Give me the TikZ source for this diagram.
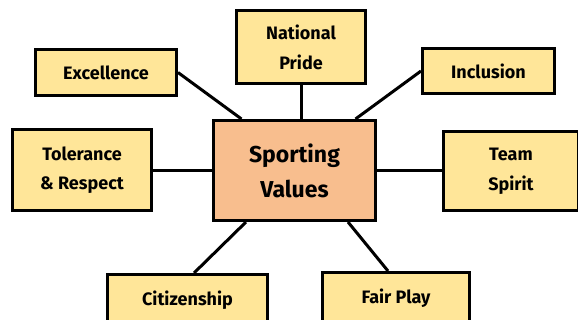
\documentclass[tikz,border=0pt]{standalone}
\usepackage{fontspec}
\setmainfont{Fira Sans}
\definecolor{boxyellow}{HTML}{FFE699}
\definecolor{boxpeach}{HTML}{F8BE8E}
\tikzset{
  valbox/.style={draw=black, line width=3pt, fill=boxyellow, align=center,
    inner sep=0pt, font=\fontsize{18}{30}\selectfont\bfseries},
  mainbox/.style={draw=black, line width=3pt, fill=boxpeach, align=center,
    inner sep=0pt, font=\fontsize{23}{35}\selectfont\bfseries},
  link/.style={draw=black, line width=3pt}
}
\begin{document}
\begin{tikzpicture}[x=1pt,y=-1pt]
\useasboundingbox (0,0) rectangle (578,320);
\clip (0,0) rectangle (578,320);
\node[valbox, minimum width=141pt, minimum height=46pt] (exc) at (106,72.5) {Excellence};
\node[valbox, minimum width=129pt, minimum height=73pt] (np) at (301,47) {National\\Pride};
\node[valbox, minimum width=132pt, minimum height=45pt] (inc) at (488.5,71) {Inclusion};
\node[valbox, minimum width=139pt, minimum height=81pt, font=\fontsize{18}{29}\selectfont\bfseries] (tol) at (82,170) {Tolerance\\\& Respect};
\node[mainbox, minimum width=162pt, minimum height=100pt] (sv) at (294.5,170.5) {Sporting\\Values};
\node[valbox, minimum width=135pt, minimum height=79pt] (team) at (511,171) {Team\\Spirit};
\node[valbox, minimum width=160pt, minimum height=51pt] (cit) at (187.5,300) {Citizenship};
\node[valbox, minimum width=147pt, minimum height=51pt] (fp) at (396,298) {Fair Play};
\draw[link] (exc.east) -- ([xshift=29.5pt]sv.north west);
\draw[link] (np.south) -- (np.south |- sv.north);
\draw[link] (inc.west) -- ([xshift=-21.5pt]sv.north east);
\draw[link] (sv.west) -- (sv.west -| tol.east);
\draw[link] (sv.east) -- (sv.east -| team.west);
\draw[link] ([xshift=34pt]sv.south west) -- ([xshift=6.5pt]cit.north);
\draw[link] ([xshift=-29pt]sv.south east) -- ([xshift=-8pt]fp.north);
\end{tikzpicture}
\end{document}
